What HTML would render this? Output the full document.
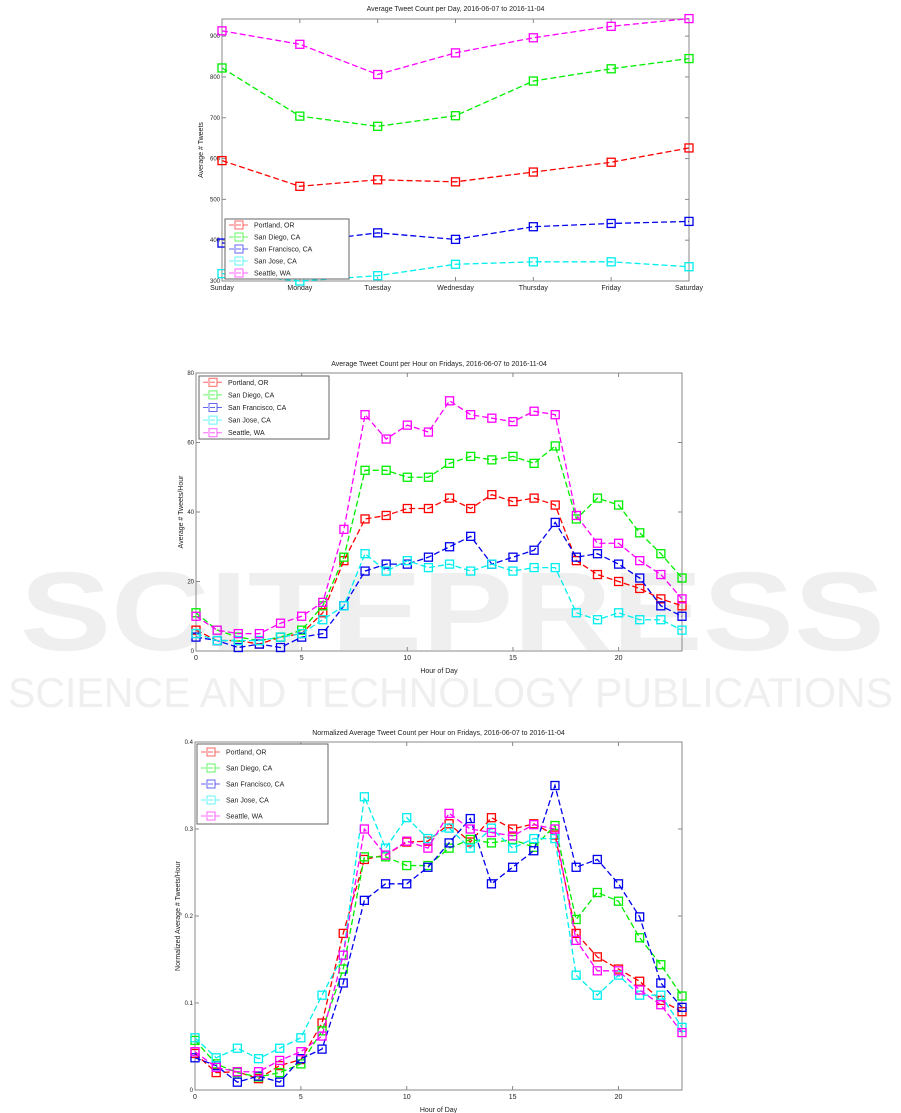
<!DOCTYPE html>
<html><head><meta charset="utf-8">
<style>
body{margin:0;background:#fff;width:901px;height:1113px;overflow:hidden;position:relative;font-family:"Liberation Sans",sans-serif}
svg{position:absolute;left:0;top:0}
</style></head>
<body>
<svg id="wm" width="901" height="1113">
<text x="20" y="650" font-size="112" font-weight="bold" fill="#efefef" textLength="865" lengthAdjust="spacingAndGlyphs" font-family="Liberation Sans, sans-serif">SCITEPRESS</text>
<text x="8" y="707" font-size="42" fill="#efefef" textLength="885" lengthAdjust="spacingAndGlyphs" font-family="Liberation Sans, sans-serif">SCIENCE AND TECHNOLOGY PUBLICATIONS</text>
</svg>
<svg id="s" width="901" height="1113"></svg>
<script>
const cities=["Portland, OR","San Diego, CA","San Francisco, CA","San Jose, CA","Seattle, WA"];
const colors=["#ff0000","#00ee00","#0000ee","#00eeee","#ff00ff"];
const days=["Sunday","Monday","Tuesday","Wednesday","Thursday","Friday","Saturday"];
const dayPortland=[595,532,548,543,567,591,626];
const daySanDiego=[822,704,679,705,790,820,845];
const daySF=[393,395,418,402,433,441,446];
const daySJ=[318,300,313,341,347,347,335];
const daySeattle=[913,880,806,859,896,924,943];
const dayYTicks=[300,400,500,600,700,800,900];
const hourXTicks=[0,5,10,15,20];
const hrPortland=[6,3,3,2,4,5,11,26,38,39,41,41,44,41,45,43,44,42,26,22,20,18,15,13];
const hrSanDiego=[11,6,4,3,4,6,13,27,52,52,50,50,54,56,55,56,54,59,38,44,42,34,28,21];
const hrSF=[4,3,1,2,1,4,5,13,23,25,25,27,30,33,25,27,29,37,27,28,25,21,13,10];
const hrSJ=[5,3,3,3,4,5,9,13,28,23,26,24,25,23,25,23,24,24,11,9,11,9,9,6];
const hrSeattle=[10,6,5,5,8,10,14,35,68,61,65,63,72,68,67,66,69,68,39,31,31,26,22,15];
const hrYTicks=[0,20,40,60,80];
const nPortland=[0.042,0.02,0.021,0.013,0.028,0.035,0.077,0.18,0.265,0.27,0.285,0.286,0.306,0.285,0.313,0.3,0.306,0.293,0.18,0.153,0.139,0.125,0.103,0.09];
const nSanDiego=[0.057,0.03,0.02,0.015,0.02,0.03,0.068,0.139,0.268,0.268,0.258,0.258,0.278,0.288,0.284,0.288,0.279,0.304,0.196,0.227,0.217,0.175,0.144,0.108];
const nSF=[0.037,0.028,0.009,0.016,0.009,0.036,0.047,0.123,0.218,0.237,0.237,0.256,0.284,0.312,0.237,0.256,0.275,0.35,0.256,0.265,0.237,0.199,0.123,0.095];
const nSJ=[0.06,0.037,0.048,0.036,0.048,0.06,0.109,0.155,0.337,0.278,0.313,0.289,0.301,0.278,0.301,0.278,0.289,0.289,0.132,0.109,0.132,0.109,0.109,0.072];
const nSeattle=[0.044,0.026,0.021,0.021,0.034,0.044,0.062,0.155,0.3,0.27,0.286,0.278,0.318,0.3,0.296,0.292,0.305,0.3,0.172,0.137,0.137,0.115,0.098,0.066];
const nYTicks=[0,0.1,0.2,0.3,0.4];

const S=document.getElementById('s');
const NS="http://www.w3.org/2000/svg";
function mk(tag,attrs,parent){const e=document.createElementNS(NS,tag);for(const k in attrs)e.setAttribute(k,attrs[k]);(parent||S).appendChild(e);return e;}
function txt(x,y,s,size,anchor,parent,rot){const t=mk('text',{x:x,y:y,'font-size':size,'text-anchor':anchor||'middle',fill:'#222','font-family':'Liberation Sans, sans-serif'},parent);if(rot)t.setAttribute('transform',`rotate(-90 ${x} ${y})`);t.textContent=s;return t;}

function chart(c){
  const g=mk('g',{});
  
  
  const xs=v=>c.L+(v-c.xmin)/(c.xmax-c.xmin)*(c.R-c.L);
  const ys=v=>c.B-(v-c.ymin)/(c.ymax-c.ymin)*(c.B-c.T);
  const fr=mk('rect',{x:c.L,y:c.T,width:c.R-c.L,height:c.B-c.T,fill:'none',stroke:'#888','stroke-width':1},g);
  
  const tt=txt((c.L+c.R)/2,c.titleY,c.title,7,'middle',g);
  
  c.xticks.forEach((v,i)=>{const x=xs(v);
    mk('line',{x1:x,y1:c.B,x2:x,y2:c.B-4,stroke:'#888'},g);
    mk('line',{x1:x,y1:c.T,x2:x,y2:c.T+4,stroke:'#888'},g);
    const t=txt(x,c.B+9,c.xlabels[i],7,'middle',g);
    });
  c.yticks.forEach(v=>{const y=ys(v);
    mk('line',{x1:c.L,y1:y,x2:c.L+4,y2:y,stroke:'#888'},g);
    mk('line',{x1:c.R,y1:y,x2:c.R-4,y2:y,stroke:'#888'},g);
    const t=txt(c.L-2,y+2,String(v),6,'end',g);
    });
  if(c.xtitle){const t=txt((c.L+c.R)/2,c.B+22,c.xtitle,7,'middle',g);}
  const yt=txt(c.ytX,(c.T+c.B)/2,c.ytitle,7,'middle',g,true);
  
  c.series.forEach((arr,si)=>{
    const pts=arr.map((v,i)=>[xs(c.xv[i]),ys(v)]);
    const p=mk('polyline',{points:pts.map(p=>p.join(',')).join(' '),fill:'none',stroke:colors[si],'stroke-width':1.3,'stroke-dasharray':'6,3'},g);
    
    pts.forEach(q=>{const r=mk('rect',{x:q[0]-4,y:q[1]-4,width:8,height:8,fill:'none',stroke:colors[si],'stroke-width':1.3},g);
      });
  });
  const lg=mk('g',{},g);
  
  mk('rect',{x:c.lg[0],y:c.lg[1],width:c.lg[2],height:c.lg[3],fill:'#fff',stroke:'#666'},lg);
  const step=c.lg[3]/5;
  cities.forEach((n,i)=>{const y=c.lg[1]+step*(i+0.5);
    const e=mk('g',{},lg);
    
    mk('line',{x1:c.lg[0]+4,y1:y,x2:c.lg[0]+24,y2:y,stroke:colors[i],'stroke-dasharray':'5,2','stroke-opacity':0.6},e);
    mk('rect',{x:c.lg[0]+10,y:y-4,width:8,height:8,fill:'none',stroke:colors[i],'stroke-opacity':0.6},e);
    txt(c.lg[0]+29,y+2.5,n,7,'start',e);});
}
chart({name:'daily-chart',L:222,R:689,T:19,B:281,xmin:0,xmax:6,ymin:300,ymax:942,xv:[0,1,2,3,4,5,6],
  xticks:[0,1,2,3,4,5,6],xlabels:days,yticks:dayYTicks,title:'Average Tweet Count per Day, 2016-06-07 to 2016-11-04',titleY:11,
  ytitle:'Average # Tweets',ytX:203,series:[dayPortland,daySanDiego,daySF,daySJ,daySeattle],lg:[225,219,124,60]});
const hrs=hrPortland.map((_,i)=>i);
chart({name:'hourly-chart',L:196,R:682,T:373,B:651,xmin:0,xmax:23,ymin:0,ymax:80,xv:hrs,
  xticks:hourXTicks,xlabels:hourXTicks.map(String),yticks:hrYTicks,xtitle:'Hour of Day',title:'Average Tweet Count per Hour on Fridays, 2016-06-07 to 2016-11-04',titleY:366,
  ytitle:'Average # Tweets/Hour',ytX:183,series:[hrPortland,hrSanDiego,hrSF,hrSJ,hrSeattle],lg:[199,376,130,63]});
chart({name:'normalized-chart',L:195,R:682,T:742,B:1090,xmin:0,xmax:23,ymin:0,ymax:0.4,xv:hrs,
  xticks:hourXTicks,xlabels:hourXTicks.map(String),yticks:nYTicks,xtitle:'Hour of Day',title:'Normalized Average Tweet Count per Hour on Fridays, 2016-06-07 to 2016-11-04',titleY:735,
  ytitle:'Normalized Average # Tweets/Hour',ytX:180,series:[nPortland,nSanDiego,nSF,nSJ,nSeattle],lg:[197,744,131,80]});
</script>
</body></html>
